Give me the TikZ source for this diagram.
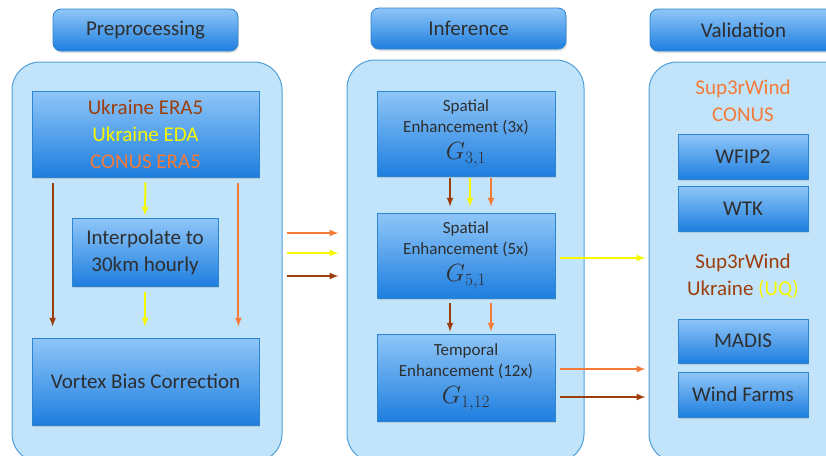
\documentclass[tikz,border=0pt]{standalone}
\usepackage{fontspec}
\setmainfont{Carlito}
\usetikzlibrary{shadows}

\definecolor{panelfill}{HTML}{C2E4FA}
\definecolor{panelline}{HTML}{4F9FDA}
\definecolor{boxtop}{HTML}{8FC6F8}
\definecolor{boxbot}{HTML}{1E7EDF}
\definecolor{boxline}{HTML}{2D84D0}
\definecolor{boxtext}{HTML}{2E2E2E}
\definecolor{era}{HTML}{9C3D0C}
\definecolor{eda}{HTML}{F7F700}
\definecolor{conus}{HTML}{F47A38}

\begin{document}
\begin{tikzpicture}[x=1pt, y=-1pt,
    panel/.style={draw=panelline, line width=1pt, fill=panelfill, rounded corners=28pt},
    head/.style={draw=boxline, line width=0.8pt, top color=boxtop, bottom color=boxbot,
        rounded corners=8pt, text=boxtext, font=\fontsize{21}{26}\selectfont,
        drop shadow={opacity=0.25, shadow xshift=1pt, shadow yshift=-2pt}},
    stage/.style={draw=boxline, line width=0.8pt, top color=boxtop, bottom color=boxbot,
        text=boxtext, align=center, inner sep=0pt, font=\fontsize{21}{27}\selectfont,
        drop shadow={opacity=0.25, shadow xshift=1pt, shadow yshift=-2pt}},
    model/.style={stage, minimum width=178pt, font=\fontsize{17}{20.5}\selectfont},
    label/.style={align=center, font=\fontsize{21}{27}\selectfont},
    arr/.style={line width=2pt, -latex},
]
\useasboundingbox (0,0) rectangle (826,455);
\clip (0,0) rectangle (826,455);

% panels
\node[panel, minimum width=270pt, minimum height=400pt] (prepPanel) at (147,262) {};
\node[panel, minimum width=237pt, minimum height=402pt] (infPanel) at (465.5,261) {};
\node[panel, minimum width=231pt, minimum height=400pt] (valPanel) at (764.5,262) {};

% headers
\node[head, minimum width=185pt, minimum height=42pt] (prepHead) at (145.5,30) {Preprocessing};
\node[head, minimum width=195pt, minimum height=41pt] (infHead) at (468.5,28.5) {Inference};
\node[head, minimum width=187pt, minimum height=42pt] (valHead) at (743.5,30) {Validation};

% preprocessing
\node[stage, minimum width=227pt, minimum height=86pt] (inputs) at (145.5,134)
    {{\color{era}Ukraine ERA5}\\{\color{eda}Ukraine EDA}\\{\color{conus}CONUS ERA5}};
\node[stage, minimum width=146pt, minimum height=68pt] (interp) at (145,252)
    {Interpolate to\\30km hourly};
\node[stage, minimum width=227pt, minimum height=87pt] (vortex) at (145.5,381.5)
    {Vortex Bias Correction};

\draw[arr, era, shorten <=6pt, shorten >=11pt] ([xshift=21pt]inputs.south west) -- ([xshift=21pt]vortex.north west);
\draw[arr, conus, shorten <=6pt, shorten >=11pt] ([xshift=-21pt]inputs.south east) -- ([xshift=-21pt]vortex.north east);
\draw[arr, eda, shorten <=5pt, shorten >=2pt] (inputs.south) -- (interp.north);
\draw[arr, eda, shorten <=6pt, shorten >=11pt] (interp.south) -- (vortex.north -| interp.south);

% inference
\node[model, minimum height=85pt] (gThree) at (466,133.5)
    {Spatial\\Enhancement (3x)\\[7pt]{\fontsize{23}{23}\selectfont $G_{3,1}$}};
\node[model, minimum height=85pt] (gFive) at (466,255.5)
    {Spatial\\Enhancement (5x)\\[7pt]{\fontsize{23}{23}\selectfont $G_{5,1}$}};
\node[model, minimum height=87pt] (gTime) at (466,377.5)
    {Temporal\\Enhancement (12x)\\[7pt]{\fontsize{23}{23}\selectfont $G_{1,12}$}};

\draw[arr, era, shorten <=2pt, shorten >=6pt] ([xshift=-16pt]gThree.south) -- ([xshift=-16pt]gFive.north);
\draw[arr, eda, shorten <=2pt, shorten >=6pt] ([xshift=4pt]gThree.south) -- ([xshift=4pt]gFive.north);
\draw[arr, conus, shorten <=2pt, shorten >=6pt] ([xshift=25pt]gThree.south) -- ([xshift=25pt]gFive.north);
\draw[arr, era, shorten <=5pt, shorten >=2pt] ([xshift=-16pt]gFive.south) -- ([xshift=-16pt]gTime.north);
\draw[arr, conus, shorten <=5pt, shorten >=2pt] ([xshift=25pt]gFive.south) -- ([xshift=25pt]gTime.north);

% between panels
\draw[arr, conus, shorten <=4pt, shorten >=8pt] ([yshift=29pt]prepPanel.east) -- ([yshift=29pt]prepPanel.east -| infPanel.west);
\draw[arr, eda, shorten <=4pt, shorten >=8pt] ([yshift=9pt]prepPanel.east) -- ([yshift=9pt]prepPanel.east -| infPanel.west);
\draw[arr, era, shorten <=4pt, shorten >=8pt] ([yshift=-14pt]prepPanel.east) -- ([yshift=-14pt]prepPanel.east -| infPanel.west);

\draw[arr, eda, shorten <=5pt, shorten >=3pt] ([yshift=-2.5pt]gFive.east) -- ([yshift=-2.5pt]gFive.east -| valPanel.west);
\draw[arr, conus, shorten <=5pt, shorten >=3pt] ([yshift=8.5pt]gTime.east) -- ([yshift=8.5pt]gTime.east -| valPanel.west);
\draw[arr, era, shorten <=5pt, shorten >=3pt] ([yshift=-19.5pt]gTime.east) -- ([yshift=-19.5pt]gTime.east -| valPanel.west);

% validation
\node[label, text=conus] (conusLabel) at (743,100.5) {Sup3rWind\\CONUS};
\node[stage, minimum width=130pt, minimum height=45pt] (wfip) at (743,156.5) {WFIP2};
\node[stage, minimum width=130pt, minimum height=45pt] (wtk) at (743,208.5) {WTK};
\node[label, text=era] (ukrLabel) at (743,276.5) {Sup3rWind\\Ukraine {\color{eda}(UQ)}};
\node[stage, minimum width=130pt, minimum height=44pt] (madis) at (743,341) {MADIS};
\node[stage, minimum width=130pt, minimum height=45pt] (farms) at (743,394.5) {Wind Farms};
\end{tikzpicture}
\end{document}
